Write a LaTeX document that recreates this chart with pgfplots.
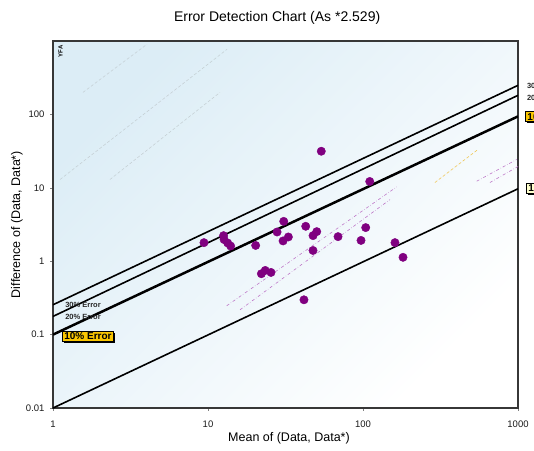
\documentclass[border=0pt]{standalone}
\usepackage{pgfplots}
\pgfplotsset{compat=1.18}
\usepackage{fontspec}
\setmainfont{Liberation Sans}
\usetikzlibrary{shadows}

\definecolor{framegray}{RGB}{55,55,55}
\definecolor{bgblue}{RGB}{220,237,246}
\definecolor{dotpurple}{RGB}{128,0,128}
\definecolor{ghostpurple}{RGB}{190,120,200}
\definecolor{ghostyellow}{RGB}{240,200,90}
\definecolor{ghostgray}{RGB}{195,205,210}
\definecolor{gold}{RGB}{250,198,0}
\definecolor{paleyellow}{RGB}{255,255,205}
\definecolor{labelgray}{RGB}{40,40,40}

\pgfplotstableread{
mean   diff
53.8   31.5
110.5  12.2
9.42   1.79
12.6   2.23
12.7   1.97
13.4   1.77
14.0   1.61
20.3   1.64
30.8   3.49
27.9   2.50
33.0   2.14
30.5   1.89
42.7   2.99
50.3   2.53
47.6   2.23
47.6   1.40
69.0   2.16
104.1  2.87
97.1   1.92
160.8  1.79
181.2  1.13
22.1   0.675
23.4   0.749
25.5   0.703
41.6   0.298
}\pairs

\tikzset{
  errlabel/.style={font=\fontsize{7.5}{9}\selectfont\bfseries, text=labelgray, inner sep=0pt, anchor=west},
  errbox/.style={font=\fontsize{10}{12}\selectfont\bfseries, draw=black, line width=0.6pt,
    inner xsep=2.2pt, inner ysep=1.5pt, anchor=west,
    drop shadow={shadow xshift=1.6pt, shadow yshift=-1.6pt, fill=black, opacity=1}},
}

\begin{document}
\begin{tikzpicture}
\begin{axis}[
  scale only axis,
  width=465pt, height=367pt,
  xmode=log, ymode=log,
  xmin=1, xmax=1000, ymin=0.01, ymax=1000,
  xtick={1,10,100,1000}, xticklabels={1,10,100,1000},
  ytick={0.01,0.1,1,10,100}, yticklabels={0.01,0.1,1,10,100},
  xminorticks=false, yminorticks=false,
  tick align=outside, major tick length=3pt,
  xtick pos=bottom, ytick pos=left,
  tick style={draw=gray, line width=0.6pt},
  ticklabel style={font=\fontsize{9.5}{10}\selectfont, text=black!90},
  xticklabel style={yshift=-6.5pt},
  yticklabel style={xshift=-2pt},
  axis line style={draw=framegray, line width=2.2pt},
  axis background/.style={top color=bgblue, bottom color=white, shading angle=45},
  clip=true,
]

% faint guide traces
\addplot[ghostgray, densely dashed, line width=0.5pt] coordinates {(1.56,199.6) (4.04,903)};
\addplot[ghostgray, densely dashed, line width=0.5pt] coordinates {(1.11,12.97) (13.27,771)};
\addplot[ghostgray, densely dashed, line width=0.5pt] coordinates {(2.33,12.97) (11.95,199.6)};
\addplot[ghostpurple, dash dot, line width=0.6pt] coordinates {(13.2,0.247) (165,10.3)};
\addplot[ghostpurple, dash dot, line width=0.6pt] coordinates {(16.1,0.218) (149.3,6.91)};
\addplot[ghostpurple, dash dot, line width=0.6pt] coordinates {(541.5,12.3) (981,24.3)};
\addplot[ghostpurple, dash dot, line width=0.6pt] coordinates {(659,11.8) (1000,19.5)};
\addplot[ghostyellow, densely dashed, line width=0.6pt] coordinates {(291,11.8) (552,33.3)};

% error limit lines
\addplot[black, line width=1.6pt] coordinates {(1,0.255) (1000,249)};
\addplot[black, line width=1.6pt] coordinates {(1,0.177) (1000,182)};
\addplot[black, line width=2.5pt] coordinates {(1,0.1) (1000,94)};
\addplot[black, line width=1.6pt] coordinates {(1,0.01) (1000,9.7)};

% data pairs
\addplot[only marks, mark=*, mark size=4.2pt, dotpurple, mark options={draw=dotpurple, fill=dotpurple}]
  table[x=mean, y=diff] {\pairs};

\node[font=\fontsize{6}{7}\selectfont\bfseries, rotate=90, anchor=east, inner sep=0pt]
  at (axis description cs:0.016,0.988) {YFA};

\node[errlabel] at (axis description cs:0.026,0.281) {30\% Error};
\node[errlabel] at (axis description cs:0.026,0.249) {20\% Error};
\end{axis}

% labels sitting on the frame edges (drawn outside the clip)
\begin{axis}[
  scale only axis, width=465pt, height=367pt,
  xmin=0, xmax=1, ymin=0, ymax=1, hide axis, clip=false,
]
\node[errbox, fill=gold] at (axis description cs:0.019,0.196) {10\% Error};
\node[errlabel] at (axis description cs:1.019,0.877) {30\% Error};
\node[errlabel] at (axis description cs:1.019,0.846) {20\% Error};
\node[errbox, fill=gold] at (axis description cs:1.015,0.794) {10\% Error};
\node[errbox, fill=paleyellow] at (axis description cs:1.017,0.598) {1\% Error};

\node[font=\fontsize{14}{16}\selectfont] at (axis description cs:0.482,1.062) {Error Detection Chart (As *2.529)};
\node[font=\fontsize{12.5}{14}\selectfont] at (axis description cs:0.5075,-0.0817) {Mean of (Data, Data*)};
\node[font=\fontsize{12.5}{14}\selectfont, rotate=90] at (axis description cs:-0.0774,0.5) {Difference of (Data, Data*)};
\end{axis}

\pgfresetboundingbox
\path ([xshift=-53pt,yshift=-42pt]current axis.south west) rectangle ([xshift=16pt,yshift=41pt]current axis.north east);
\end{tikzpicture}
\end{document}
